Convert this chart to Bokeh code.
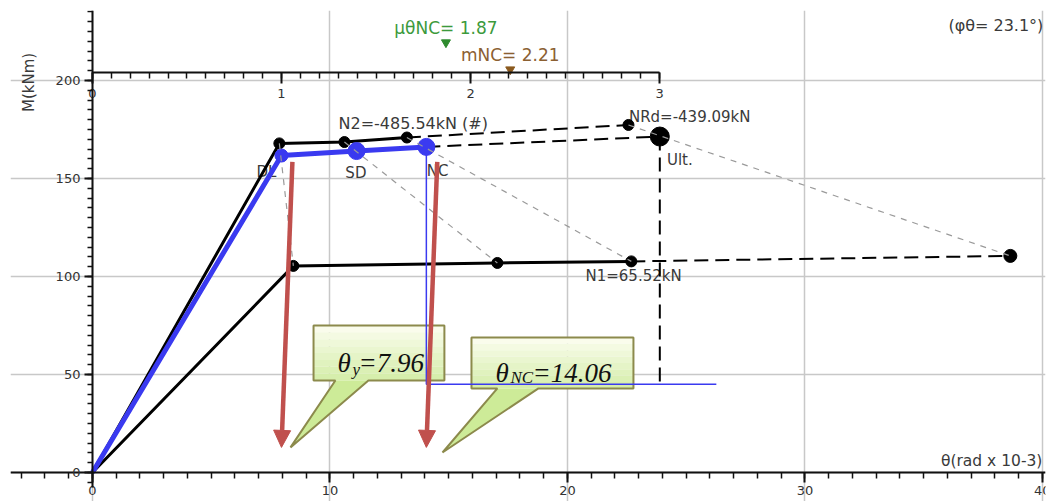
from bokeh.plotting import figure
from bokeh.models import Range1d, LinearAxis, SingleIntervalTicker, Arrow, NormalHead
from bokeh.core.properties import value
from bokeh.embed import file_html
from bokeh.resources import INLINE

# ---- moment-rotation data: theta in rad x 10-3, M in kNm ----
# upper bound curve (N2) and its continuation to NRd
upper_theta = [0.0, 7.87, 10.61, 13.24]
upper_m = [0.0, 167.9, 168.6, 170.9]
nrd_theta = 22.57
nrd_m = 177.3

# lower bound curve (N1) and its continuation
lower_theta = [0.0, 8.46, 17.05, 22.69]
lower_m = [0.0, 105.4, 106.9, 107.7]
lower_end_theta = 38.65
lower_end_m = 110.5

# limit states on the interpolated curve
state_names = ["DL", "SD", "NC"]
state_theta = [7.96, 11.12, 14.06]
state_m = [161.7, 164.0, 166.1]

# ultimate point
ult_theta = 23.89
ult_m = 171.4

# demand level drawn from NC
demand_m = 45.0
demand_end_theta = 26.27

theta_y = 7.96
theta_nc = 14.06
mu_theta_nc = 1.87
m_nc = 2.21
phi_theta = 23.1
n1 = 65.52
n2 = -485.54
nrd = -439.09

FONT = "DejaVu Sans"
TXT = "#3a3a3a"
BLUE = "#3a3af0"
RED = "#c0504d"

x0, x1 = -3.45, 40.13
y0, y1 = -14.8, 235.7
y_axis_low = -7.65

p = figure(width=1050, height=501, x_range=Range1d(x0, x1), y_range=Range1d(y0, y1),
           output_backend="svg", toolbar_location=None,
           min_border_left=10, min_border_right=5, min_border_top=10, min_border_bottom=0)
p.outline_line_color = None
p.background_fill_color = "white"
p.extra_x_ranges = {"mu": Range1d(x0 / theta_y, x1 / theta_y)}

# ---- axes crossing at the origin ----
xt = SingleIntervalTicker(interval=10, num_minor_ticks=10)
yt = SingleIntervalTicker(interval=50, num_minor_ticks=10)
xa = p.xaxis[0]
ya = p.yaxis[0]
xa.ticker = xt
ya.ticker = yt
xa.fixed_location = 0
ya.fixed_location = 0
ya.bounds = (y_axis_low, y1)
for ax, mo, mi in ((xa, 10, 6), (ya, 8, 5)):
    ax.axis_line_color = "#111111"
    ax.axis_line_width = 2
    ax.major_tick_line_color = "#111111"
    ax.major_tick_line_width = 2
    ax.minor_tick_line_color = "#111111"
    ax.minor_tick_line_width = 1.5
    ax.major_tick_in = 0
    ax.minor_tick_in = 0
    ax.major_tick_out = mo
    ax.minor_tick_out = mi
    ax.major_label_text_font = FONT
    ax.major_label_text_font_size = "13px"
    ax.major_label_text_color = "#333333"
    ax.major_label_standoff = 4

# ductility axis (theta / theta_y) drawn inside the plot
mu_axis = LinearAxis(x_range_name="mu", ticker=SingleIntervalTicker(interval=1, num_minor_ticks=10),
                     bounds=(0, 3), fixed_location=204.1)
mu_axis.axis_line_color = "#111111"
mu_axis.axis_line_width = 2
mu_axis.major_tick_line_color = "#111111"
mu_axis.major_tick_line_width = 2
mu_axis.minor_tick_line_color = "#111111"
mu_axis.minor_tick_line_width = 1.5
mu_axis.major_tick_in = 0
mu_axis.minor_tick_in = 0
mu_axis.major_tick_out = 11
mu_axis.minor_tick_out = 6
mu_axis.major_label_text_font = FONT
mu_axis.major_label_text_font_size = "13px"
mu_axis.major_label_text_color = "#333333"
mu_axis.major_label_standoff = 6
p.add_layout(mu_axis, "below")

for g, t in ((p.xgrid, xt), (p.ygrid, yt)):
    g.ticker = t
    g.grid_line_color = "#c8c8c8"
    g.grid_line_width = 1.5

# ---- text labels under the curves ----
def txt(x, y, s, size="15px", color=TXT, align="left", baseline="middle", angle=0, rng="default",
        font=FONT, style="normal", x_offset=0):
    p.text(x=[x], y=[y], text=[s], text_font=value(font), text_font_size=size, text_color=color,
           text_align=align, text_baseline=baseline, angle=angle, x_range_name=rng,
           text_font_style=style, x_offset=x_offset)

txt(state_theta[0] - 1.05, state_m[0] - 8.6, state_names[0])
txt(state_theta[1] - 0.47, state_m[1] - 11.0, state_names[1])
txt(state_theta[2] + 0.02, state_m[2] - 12.1, state_names[2])
txt(ult_theta + 0.3, ult_m - 12.2, "Ult.")
txt(upper_theta[2] - 0.25, upper_m[2] + 9.2, f"N2={n2:.2f}kN (#)", size="16px")
txt(nrd_theta + 0.02, nrd_m + 4.3, f"NRd={nrd:.2f}kN")
txt(lower_theta[3] - 1.93, lower_m[3] - 7.2, f"N1={n1:.2f}kN")

# ---- callout boxes pointing at the arrow tips ----
def callout(box_l, box_r, box_b, box_t, base_l, base_r, tip_t, tip_m, base_txt, sub_txt, rest_txt,
            txt_t, txt_m, sub_dx, rest_dx, sub_dm):
    n = 8
    top_c = (250, 252, 236)
    bot_c = (214, 238, 172)
    h = (box_t - box_b) / n
    tops, bots, cols = [], [], []
    for i in range(n):
        f = i / (n - 1)
        c = tuple(int(top_c[k] + (bot_c[k] - top_c[k]) * f) for k in range(3))
        tops.append(box_t - i * h)
        bots.append(box_t - (i + 1) * h)
        cols.append("#%02x%02x%02x" % c)
    p.quad(left=[box_l] * n, right=[box_r] * n, top=tops, bottom=bots, fill_color=cols, line_color=None)
    p.patch([base_l, base_r, tip_t], [box_b, box_b, tip_m], fill_color="#cdeb98", line_color=None)
    p.patch([box_l, box_r, box_r, base_r, tip_t, base_l, box_l],
            [box_t, box_t, box_b, box_b, tip_m, box_b, box_b],
            fill_color=None, line_color="#8c8a4c", line_width=2)
    txt(txt_t, txt_m, base_txt, size="27px", color="#111111", baseline="alphabetic",
        font="Liberation Serif", style="italic")
    txt(txt_t, txt_m - sub_dm, sub_txt, size="17px", color="#111111", baseline="alphabetic",
        font="Liberation Serif", style="italic", x_offset=sub_dx)
    txt(txt_t, txt_m, rest_txt, size="27px", color="#111111", baseline="alphabetic",
        font="Liberation Serif", style="italic", x_offset=rest_dx)

callout(9.31, 14.82, 46.9, 75.0, 10.23, 11.62, theta_y + 0.38, 12.8,
        "θ", "y", f"={theta_y:.2f}", 10.32, 56.1, 15, 21, 3.6)
callout(15.96, 22.78, 42.9, 68.9, 17.05, 18.78, theta_nc + 0.68, 10.2,
        "θ", "NC", f"={theta_nc:.2f}", 16.97, 51.0, 15, 37, 2.6)

# ---- curves ----
DASH = "14 7"
p.line(upper_theta, upper_m, line_color="black", line_width=3)
p.line([upper_theta[-1], nrd_theta], [upper_m[-1], nrd_m], line_color="black", line_width=2, line_dash=DASH)
p.line(lower_theta, lower_m, line_color="black", line_width=3)
p.line([lower_theta[-1], lower_end_theta], [lower_m[-1], lower_end_m], line_color="black",
       line_width=2, line_dash=DASH)
p.line([state_theta[-1], ult_theta], [state_m[-1], ult_m], line_color="black", line_width=2, line_dash=DASH)
p.line([ult_theta, ult_theta], [ult_m, demand_m], line_color="black", line_width=2, line_dash=DASH)

p.line([0.0] + state_theta, [0.0] + state_m, line_color=BLUE, line_width=5)
p.line([theta_nc, theta_nc, demand_end_theta], [state_m[-1], demand_m, demand_m],
       line_color=BLUE, line_width=1.5)

# markers
p.scatter(upper_theta[1:] + [nrd_theta], upper_m[1:] + [nrd_m], size=11, color="black")
p.scatter(lower_theta[1:] + [lower_end_theta], lower_m[1:] + [lower_end_m], size=[11, 11, 11, 13], color="black")
p.scatter(state_theta, state_m, size=[13, 17, 17], color=BLUE)
p.scatter([ult_theta], [ult_m], size=19, color="black")

# connectors between matching points of the two bounds
up_pts_t = upper_theta[1:] + [nrd_theta]
up_pts_m = upper_m[1:] + [nrd_m]
lo_pts_t = lower_theta[1:] + [lower_end_theta]
lo_pts_m = lower_m[1:] + [lower_end_m]
p.multi_line([[a, b] for a, b in zip(up_pts_t, lo_pts_t)], [[a, b] for a, b in zip(up_pts_m, lo_pts_m)],
             line_color="#9a9a9a", line_width=1.2, line_dash="6 6")

# ---- ductility markers on the top axis ----
p.scatter([mu_theta_nc], [219.4], marker="inverted_triangle", size=9, color="#2e8b2e", x_range_name="mu")
p.scatter([m_nc], [205.6], marker="inverted_triangle", size=9, color="#8b5a1e", x_range_name="mu")
txt(mu_theta_nc, 226.8, f"μθNC= {mu_theta_nc:.2f}", size="17px", color="#3c9a3c", align="center", rng="mu")
txt(m_nc, 213.0, f"mNC= {m_nc:.2f}", size="17px", color="#8b6032", align="center", rng="mu")

# ---- arrows to the rotation values ----
for t in (theta_y, theta_nc):
    p.add_layout(Arrow(end=NormalHead(size=17, fill_color=RED, line_color=RED, line_width=1),
                       x_start=t + 0.46, y_start=158.5, x_end=t, y_end=12.8,
                       line_color=RED, line_width=4.5))

# ---- titles ----
txt(x1 - 0.09, 228.0, f"(φθ= {phi_theta}°)", size="16px", align="right")
txt(-2.69, 199.0, "M(kNm)", size="15px", align="center", angle=1.5708)
txt(x1 - 0.13, 6.1, "θ(rad x 10-3)", size="15.5px", align="right")

open("out.html", "w").write(file_html(p, INLINE))
